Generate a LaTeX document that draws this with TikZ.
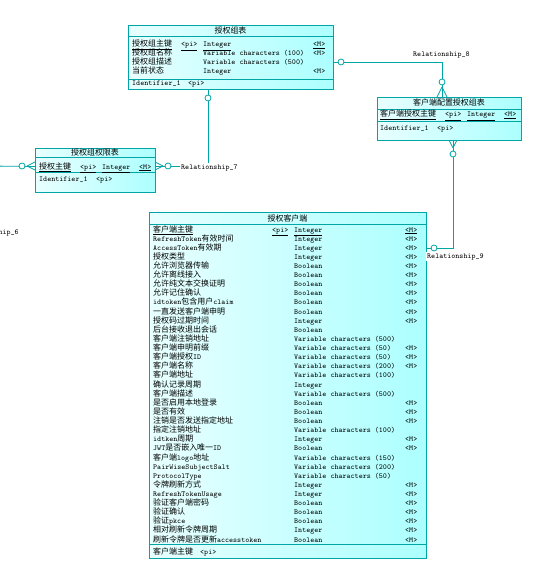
\documentclass[tikz,border=0pt]{standalone}
\usepackage{fontspec}
\newfontfamily\cjk{Noto Sans CJK SC}[Scale=1.05]
\newcommand\zh[1]{{\cjk #1}}
\definecolor{pdline}{RGB}{0,165,165}
\definecolor{pdleft}{RGB}{232,255,255}
\definecolor{pdright}{RGB}{172,255,255}
\tikzset{
  entity/.style={draw=pdline, line width=1.1pt, left color=pdleft, right color=pdright,
    anchor=north west, inner sep=0pt},
  sep/.style={draw=pdline, line width=0.8pt},
  rel/.style={draw=pdline, line width=0.8pt},
  opt/.style={draw=pdline, line width=0.8pt, fill=white},
  attr/.style={anchor=base west, inner sep=0pt},
  ttl/.style={anchor=base, inner sep=0pt},
  rlabel/.style={anchor=base west, inner sep=1pt, fill=white}
}
\begin{document}
\begin{tikzpicture}[x=1pt, y=-1pt, font=\fontsize{7.6}{8}\selectfont\ttfamily]
  \useasboundingbox (0,0) rectangle (535,572);
  \clip (0,0) rectangle (535,572);

  % 授权组表
  \node[entity, minimum width=205pt, minimum height=64pt] (grp) at (128,25) {};
  \draw[sep] ([yshift=-11pt]grp.north west) -- ([yshift=-11pt]grp.north east);
  \draw[sep] ([yshift=11pt]grp.south west) -- ([yshift=11pt]grp.south east);
  \node[ttl] (grpT) at (230.5,34) {\zh{授权组表}};
  \node[attr] (g1) at (132,47) {\underline{\zh{授权组主键}}};
  \node[attr] (g1p) at (181,47) {\underline{<pi>}};
  \node[attr] (g1t) at (203,47) {\underline{Integer}};
  \node[attr] (g1m) at (313,47) {\underline{<M>}};
  \node[attr] (g2) at (132,56) {\zh{授权组名称}};
  \node[attr] (g2t) at (203,56) {Variable characters (100)};
  \node[attr] (g2m) at (313,56) {<M>};
  \node[attr] (g3) at (132,65) {\zh{授权组描述}};
  \node[attr] (g3t) at (203,65) {Variable characters (500)};
  \node[attr] (g4) at (132,74) {\zh{当前状态}};
  \node[attr] (g4t) at (203,74) {Integer};
  \node[attr] (g4m) at (313,74) {<M>};
  \node[attr] (gid) at (132,86) {Identifier\_1};
  \node[attr] (gidp) at (188,86) {<pi>};

  % 客户端配置授权组表
  \node[entity, minimum width=144pt, minimum height=43pt] (cfg) at (377,97) {};
  \draw[sep] ([yshift=-12pt]cfg.north west) -- ([yshift=-12pt]cfg.north east);
  \draw[sep] ([yshift=-24pt]cfg.north west) -- ([yshift=-24pt]cfg.north east);
  \node[ttl] (cfgT) at (449,106) {\zh{客户端配置授权组表}};
  \node[attr] (f1) at (380,117) {\underline{\zh{客户端授权主键}}};
  \node[attr] (f1p) at (445,117) {\underline{<pi>}};
  \node[attr] (f1t) at (467,117) {\underline{Integer}};
  \node[attr] (f1m) at (504,117) {\underline{<M>}};
  \node[attr] (fid) at (380,131) {Identifier\_1};
  \node[attr] (fidp) at (437,131) {<pi>};

  % 授权组权限表
  \node[entity, minimum width=120pt, minimum height=44pt] (perm) at (35,148) {};
  \draw[sep] ([yshift=-9pt]perm.north west) -- ([yshift=-9pt]perm.north east);
  \draw[sep] ([yshift=-24pt]perm.north west) -- ([yshift=-24pt]perm.north east);
  \node[ttl] (permT) at (95,155.5) {\zh{授权组权限表}};
  \node[attr] (p1) at (39,169) {\underline{\zh{授权主键}}};
  \node[attr] (p1p) at (80,169) {\underline{<pi>}};
  \node[attr] (p1t) at (102,169) {\underline{Integer}};
  \node[attr] (p1m) at (139,169) {\underline{<M>}};
  \node[attr] (pid) at (39,181) {Identifier\_1};
  \node[attr] (pidp) at (96,181) {<pi>};

  % 授权客户端
  \node[entity, minimum width=277pt, minimum height=346pt] (cli) at (149,212) {};
  \draw[sep] ([yshift=-12pt]cli.north west) -- ([yshift=-12pt]cli.north east);
  \draw[sep] ([yshift=15pt]cli.south west) -- ([yshift=15pt]cli.south east);
  \node[ttl] (cliT) at (287.5,221) {\zh{授权客户端}};
  \node[attr] (cpk) at (272,232) {\underline{<pi>}};
  \foreach \nm/\ty/\mm [count=\i from 0] in {
    \underline{\zh{客户端主键}}/\underline{Integer}/\underline{<M>},
    RefreshToken\zh{有效时间}/Integer/<M>,
    AccessToken\zh{有效期}/Integer/<M>,
    \zh{授权类型}/Integer/<M>,
    \zh{允许浏览器传输}/Boolean/<M>,
    \zh{允许离线接入}/Boolean/<M>,
    \zh{允许纯文本交换证明}/Boolean/<M>,
    \zh{允许记住确认}/Boolean/<M>,
    idtoken\zh{包含用户}claim/Boolean/<M>,
    \zh{一直发送客户端申明}/Boolean/<M>,
    \zh{授权码过期时间}/Integer/<M>,
    \zh{后台接收退出会话}/Boolean/{},
    \zh{客户端注销地址}/Variable characters (500)/{},
    \zh{客户端申明前缀}/Variable characters (50)/<M>,
    \zh{客户端授权}ID/Variable characters (50)/<M>,
    \zh{客户端名称}/Variable characters (200)/<M>,
    \zh{客户端地址}/Variable characters (100)/{},
    \zh{确认记录周期}/Integer/{},
    \zh{客户端描述}/Variable characters (500)/{},
    \zh{是否启用本地登录}/Boolean/<M>,
    \zh{是否有效}/Boolean/<M>,
    \zh{注销是否发送指定地址}/Boolean/<M>,
    \zh{指定注销地址}/Variable characters (100)/{},
    idtken\zh{周期}/Integer/<M>,
    JWT\zh{是否嵌入唯一}ID/Boolean/<M>,
    \zh{客户端}logo\zh{地址}/Variable characters (150)/{},
    PairWiseSubjectSalt/Variable characters (200)/{},
    ProtocolType/Variable characters (50)/{},
    \zh{令牌刷新方式}/Integer/<M>,
    RefreshTokenUsage/Integer/<M>,
    \zh{验证客户端密码}/Boolean/<M>,
    \zh{验证确认}/Boolean/<M>,
    \zh{验证}pkce/Boolean/<M>,
    \zh{相对刷新令牌周期}/Integer/<M>,
    \zh{刷新令牌是否更新}accesstoken/Boolean/<M>}{
    \node[attr] (cn\i) at (153,{232+9.12*\i}) {\nm};
    \node[attr] (ct\i) at (294,{232+9.12*\i}) {\ty};
    \node[attr] (cm\i) at (405,{232+9.12*\i}) {\mm};
  }
  \node[attr] (cid) at (153,554) {\zh{客户端主键}};
  \node[attr] (cidp) at (200,554) {<pi>};

  % Relationship_8
  \draw[rel] ([yshift=-5pt]grp.east) -| ([xshift=-7pt]cfg.north);
  \draw[rel] (442,87) -- (437,97) (442,87) -- (447,97);
  \draw[opt] (341,62) circle (3pt);
  \draw[opt] (442,82) circle (3pt);
  \node[attr] (r8) at (413,57) {Relationship\_8};

  % Relationship_7
  \draw[rel] ([xshift=-22.5pt]grp.south) |- ([yshift=4pt]perm.east);
  \draw[rel] (163,166) -- (155,162) (163,166) -- (155,170);
  \draw[opt] (208,98) circle (3pt);
  \draw[opt] (168,166) circle (3pt);
  \node[rlabel] (r7) at (180,169) {Relationship\_7};

  % Relationship_9
  \draw[rel] ([xshift=4pt]cfg.south) |- ([yshift=137pt]cli.east);
  \draw[rel] (453,148) -- (449,140) (453,148) -- (457,140);
  \draw[opt] (453,154) circle (3pt);
  \draw[opt] (434,248) circle (3pt);
  \node[rlabel] (r9) at (426,258) {Relationship\_9};

  % Relationship_6
  \coordinate (r6end) at (-10,166);
  \draw[rel] ([yshift=4pt]perm.west) -- (r6end);
  \draw[rel] (27,166) -- (35,162) (27,166) -- (35,170);
  \draw[opt] (22,166) circle (3pt);
  \node[rlabel] (r6) at (-39,234) {Relationship\_6};
\end{tikzpicture}
\end{document}
